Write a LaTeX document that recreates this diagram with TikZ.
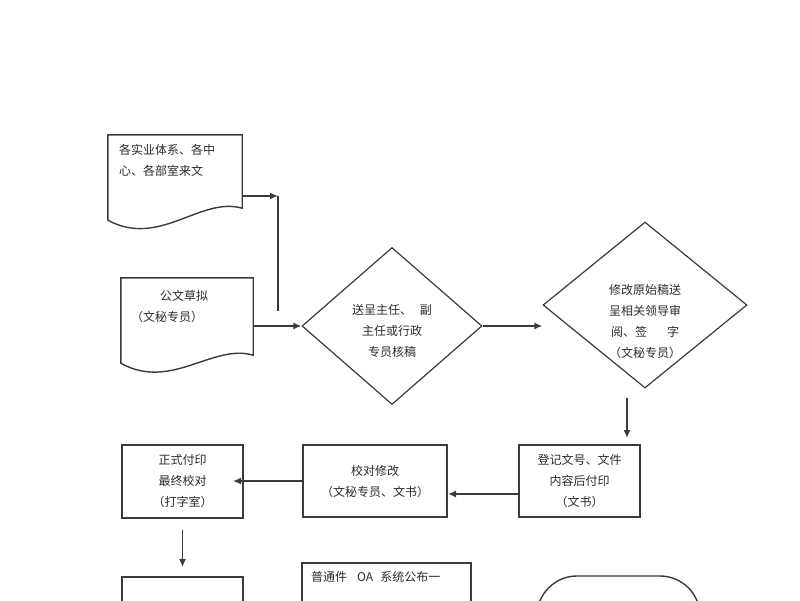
\documentclass[tikz,border=0pt]{standalone}
\usepackage{fontspec}
\newfontfamily\cjk{Noto Sans CJK SC}
\usetikzlibrary{shapes.geometric,arrows.meta}
\definecolor{ln}{HTML}{3A3A3A}
\definecolor{tx}{HTML}{2A2A2A}

\begin{document}
\begin{tikzpicture}[x=1pt, y=-1pt, font=\cjk\fontsize{12}{21}\selectfont, text=tx,
  box/.style={draw=ln, line width=2pt, inner sep=0pt, align=center},
  dia/.style={draw=ln, line width=1.2pt, diamond, inner sep=0pt},
  doc/.style={inner sep=0pt},
  arr/.style={draw=ln, line width=1.5pt, -{Latex[length=8pt,width=7pt]}},
  line/.style={draw=ln, line width=1.4pt}]

\useasboundingbox (0,0) rectangle (800,600);
\clip (0,0) rectangle (800,600);

\node (d1) [doc, minimum width=134pt, minimum height=93pt] at (175,181.5) {};
\node (d2) [doc, minimum width=132pt, minimum height=92pt] at (187,324) {};
\node (q1) [dia, minimum width=180pt, minimum height=157pt] at (392,326) {};
\node (q2) [dia, minimum width=204pt, minimum height=166pt] at (645,305) {};
\node (r3) [box, minimum width=121pt, minimum height=72pt] at (579.5,481) {登记文号、文件\\内容后付印\\（文书）};
\node (r2) [box, minimum width=144pt, minimum height=72pt] at (375,481) {校对修改\\（文秘专员、文书）};
\node (r1) [box, minimum width=121pt, minimum height=73pt] at (182.5,481) {正式付印\\最终校对\\（打字室）};
\node (r4) [box, minimum width=121pt, minimum height=80pt] at (182.5,617) {};
\node (r5) [box, minimum width=169pt, minimum height=90pt] at (386.5,608) {};
\node (r6) [draw=ln, line width=1.4pt, rounded corners=40pt, minimum width=163pt, minimum height=100pt] at (618.5,626) {};

% texts of the documents and decisions
\node (d1t) [anchor=north west, align=left, inner sep=0pt] at ([xshift=11pt,yshift=-9pt]d1.north west) {各实业体系、各中\\心、各部室来文};
\node (d2t) [anchor=north west, align=left, inner sep=0pt] at ([xshift=10pt,yshift=-12pt]d2.north west) {\hspace{29pt}公文草拟\\（文秘专员）};
\node (q1t) [align=center] at ([yshift=-5pt]q1.center) {送呈主任、\hspace{8pt}副\\主任或行政\\专员核稿};
\node (q2t) [align=center] at ([yshift=-16pt]q2.center) {修改原始稿送\\呈相关领导审\\阅、签\hspace{20pt}字\\（文秘专员）};
\node (r5t) [anchor=west, inner sep=0pt] at ([xshift=10pt,yshift=-15pt]r5.north west) {普通件\hspace{10pt}OA\hspace{7pt}系统公布一};

\draw[line] (d1.north west) -- (d1.north east) -- ([yshift=20pt]d1.south east) .. controls ([xshift=-42pt,yshift=32pt]d1.south east) and ([xshift=52pt,yshift=-20pt]d1.south west) .. ([yshift=8pt]d1.south west) -- cycle;
\draw[line] (d2.north west) -- (d2.north east) -- ([yshift=15pt]d2.south east) .. controls ([xshift=-40pt,yshift=27pt]d2.south east) and ([xshift=50pt,yshift=-21pt]d2.south west) .. ([yshift=7pt]d2.south west) -- cycle;

\coordinate (c1) at (278,196);
\coordinate (c2) at (278,311);
\coordinate (t4) at (627,398);
\coordinate (h4) at (627,438);

\draw[arr] ([yshift=-14.5pt]d1.east) -- (c1);
\draw[line] (c1) -- (c2);
\draw[arr] ([yshift=-2pt]d2.east) -- (q1.west);
\draw[arr] (q1.east) -- (q1.east -| q2.west);
\draw[arr] (t4) -- (h4);
\draw[arr] ([yshift=-13pt]r3.west) -- ([yshift=-13pt]r2.east);
\draw[arr] (r2.west) -- ([xshift=-11pt]r1.east);
\draw[arr] ([yshift=-11pt]r1.south) -- ([yshift=9pt]r4.north);

\end{tikzpicture}
\end{document}
